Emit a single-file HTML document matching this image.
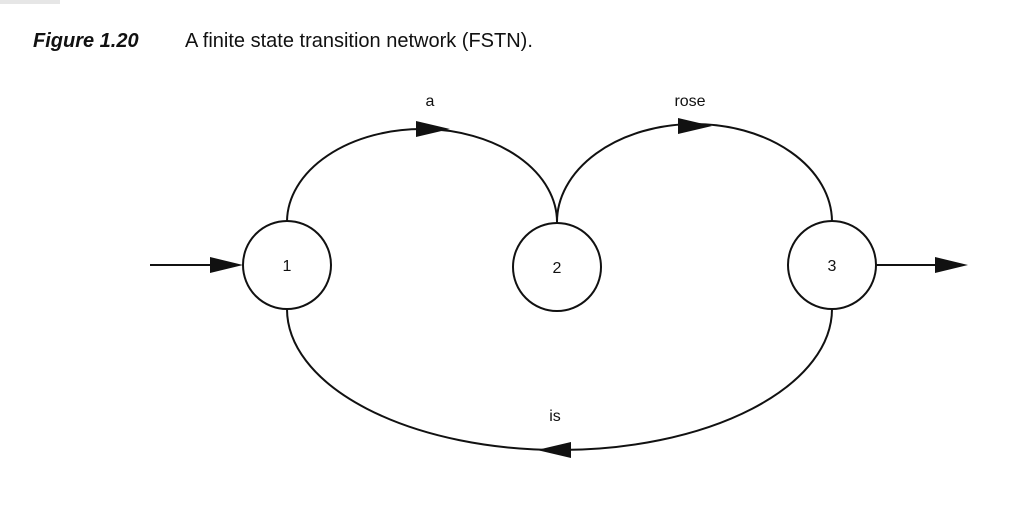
<!DOCTYPE html>
<html><head><style>
html,body{margin:0;padding:0;background:#fff;}
body{width:1023px;height:518px;overflow:hidden;position:relative;font-family:"Liberation Sans",sans-serif;}
</style></head><body>
<div style="position:absolute;left:0;top:0;width:60px;height:4px;background:#e6e6e6"></div>
<svg width="1023" height="518" style="position:absolute;left:0;top:0">
<text x="33" y="47" font-family="Liberation Sans" font-size="20" font-weight="bold" font-style="italic" fill="#111">Figure 1.20</text>
<text x="185" y="47" font-family="Liberation Sans" font-size="20" fill="#111">A finite state transition network (FSTN).</text>
<g fill="none" stroke="#111" stroke-width="2">
<circle cx="287" cy="265" r="44"/>
<circle cx="557" cy="267" r="44"/>
<circle cx="832" cy="265" r="44"/>
<path d="M287,221 A135,93 0 0 1 557,223"/>
<path d="M557,223 A137.5,98 0 0 1 832,221"/>
<path d="M287,309 A272.5,141 0 0 0 832,309"/>
<line x1="150" y1="265" x2="215" y2="265"/>
<line x1="876" y1="265" x2="940" y2="265"/>
</g>
<g fill="#111">
<polygon points="243,265 210,257 210,273"/>
<polygon points="968,265 935,257 935,273"/>
<polygon points="450,129 416,121 416,137"/>
<polygon points="712,126 678,118 678,134"/>
<polygon points="537,450 571,442 571,458"/>
</g>
<g font-family="Liberation Sans" font-size="16" fill="#111" text-anchor="middle">
<text x="287" y="271">1</text>
<text x="557" y="273">2</text>
<text x="832" y="271">3</text>
<text x="430" y="106">a</text>
<text x="690" y="106">rose</text>
<text x="555" y="421">is</text>
</g>
</svg>
</body></html>
